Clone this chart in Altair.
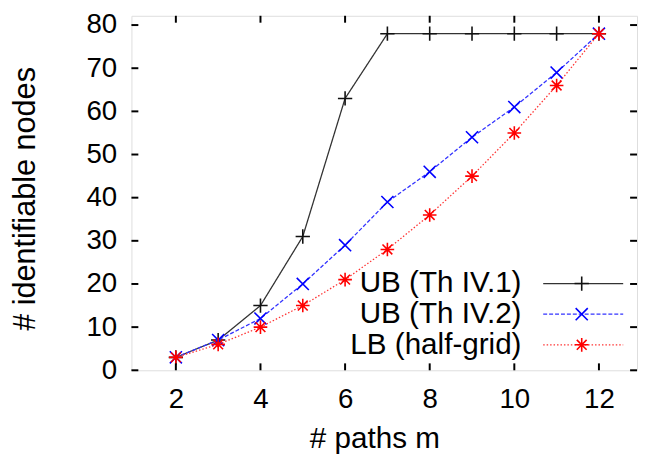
import altair as alt
import pandas as pd

# ---- data ----
m_values = [2, 3, 4, 5, 6, 7, 8, 9, 10, 11, 12]
ub_th41 = [3, 7, 15, 31, 63, 78, 78, 78, 78, 78, 78]
ub_th42 = [3, 7, 12, 20, 29, 39, 46, 54, 61, 69, 78]
lb_half = [3, 6, 10, 15, 21, 28, 36, 45, 55, 66, 78]
series_names = ["UB (Th IV.1)", "UB (Th IV.2)", "LB (half-grid)"]
x_tick_values = [2, 4, 6, 8, 10, 12]
y_tick_values = [0, 10, 20, 30, 40, 50, 60, 70, 80]

X_DOMAIN = [0.95, 12.9]
Y_DOMAIN = [0, 82.15]
W, H = 512, 359
FONT = "Liberation Sans"

series_values = [ub_th41, ub_th42, lb_half]
colors = ["#111111", "#0000ff", "#ff0000"]
line_colors = ["#333333", "#3333ff", "#ff3333"]
dashes = [[1, 0], [4, 2], [1.5, 2]]
shapes = [
    "M-1,0L1,0M0,-1L0,1",
    "M-1,-1L1,1M-1,1L1,-1",
    "M-1,0L1,0M0,-1L0,1M-0.72,-0.72L0.72,0.72M-0.72,0.72L0.72,-0.72",
]
sizes = [210, 150, 190]

rows = []
for name, vals in zip(series_names, series_values):
    for mm, v in zip(m_values, vals):
        rows.append({"series": name, "m": mm, "v": v})
df = pd.DataFrame(rows)

xscale = alt.Scale(domain=X_DOMAIN, nice=False, zero=False)
yscale = alt.Scale(domain=Y_DOMAIN, nice=False, zero=False)

x_axis = alt.Axis(
    values=x_tick_values, title="# paths m", labelFontSize=28, labelFont=FONT,
    labelColor="black", labelPadding=16, ticks=False, tickSize=0, domain=False, grid=False,
    titleFont=FONT, titleFontSize=30, titleFontWeight="normal", titleColor="black",
    titleX=246, titleY=78, titleBaseline="alphabetic", titleAlign="center",
)
y_axis = alt.Axis(
    values=y_tick_values, title="# identifiable nodes", labelFontSize=28, labelFont=FONT,
    labelColor="black", labelPadding=15, ticks=False, tickSize=0, domain=False, grid=False,
    titleFont=FONT, titleFontSize=31, titleFontWeight="normal", titleColor="black",
    titleX=-98, titleY=185, titleBaseline="alphabetic", titleAlign="center", titleAngle=270,
)

base = alt.Chart(df)
layers = []
for i, name in enumerate(series_names):
    sub = base.transform_filter(alt.datum.series == name)
    layers.append(
        sub.mark_line(color=line_colors[i], strokeWidth=1.3, strokeDash=dashes[i]).encode(
            x=alt.X("m:Q", scale=xscale, axis=x_axis),
            y=alt.Y("v:Q", scale=yscale, axis=y_axis),
        )
    )
    layers.append(
        sub.mark_point(shape=shapes[i], size=sizes[i], filled=False, color=colors[i],
                       strokeWidth=1.6, opacity=1).encode(
            x=alt.X("m:Q", scale=xscale, axis=x_axis),
            y=alt.Y("v:Q", scale=yscale, axis=y_axis),
        )
    )

# ---- legend (drawn inside the plot, labels to the left of samples) ----
legend_df = pd.DataFrame({"label": series_names, "row": [0, 1, 2]})
leg = alt.Chart(legend_df).transform_calculate(ly="20.1 - 7.1 * datum.row")
for i, name in enumerate(series_names):
    sub = leg.transform_filter(alt.datum.label == name)
    layers.append(
        sub.mark_text(align="right", baseline="middle", fontSize=30, font=FONT, color="black").encode(
            x=alt.value(395), y=alt.Y("ly:Q", scale=yscale, axis=y_axis), text="label:N"
        )
    )
    layers.append(
        sub.mark_rule(color=line_colors[i], strokeWidth=1.3, strokeDash=dashes[i]).encode(
            x=alt.value(417), x2=alt.value(498), y=alt.Y("ly:Q", scale=yscale, axis=y_axis)
        )
    )
    layers.append(
        sub.mark_point(shape=shapes[i], size=sizes[i], filled=False, color=colors[i],
                       strokeWidth=1.6, opacity=1).encode(
            x=alt.value(456), y=alt.Y("ly:Q", scale=yscale, axis=y_axis)
        )
    )

# ---- inward frame ticks ----
xt = alt.Chart(pd.DataFrame({"t": x_tick_values}))
yt = alt.Chart(pd.DataFrame({"t": y_tick_values}))
layers.append(xt.mark_rule(color="black", strokeWidth=2).encode(
    x=alt.X("t:Q", scale=xscale, axis=x_axis), y=alt.value(H), y2=alt.value(H - 7)))
layers.append(xt.mark_rule(color="black", strokeWidth=2).encode(
    x=alt.X("t:Q", scale=xscale, axis=x_axis), y=alt.value(0), y2=alt.value(7)))
layers.append(yt.mark_rule(color="black", strokeWidth=2).encode(
    y=alt.Y("t:Q", scale=yscale, axis=y_axis), x=alt.value(0), x2=alt.value(7)))
layers.append(yt.mark_rule(color="black", strokeWidth=2).encode(
    y=alt.Y("t:Q", scale=yscale, axis=y_axis), x=alt.value(W), x2=alt.value(W - 7)))

chart = alt.layer(*layers).properties(
    width=W, height=H,
    autosize=alt.AutoSizeParams(type="none"),
    padding={"left": 125, "top": 5, "right": 1, "bottom": 90},
).configure_view(stroke="black", strokeWidth=2.5).configure(background="white")

chart.save("out.html", embed_options={"renderer": "svg", "actions": False})
